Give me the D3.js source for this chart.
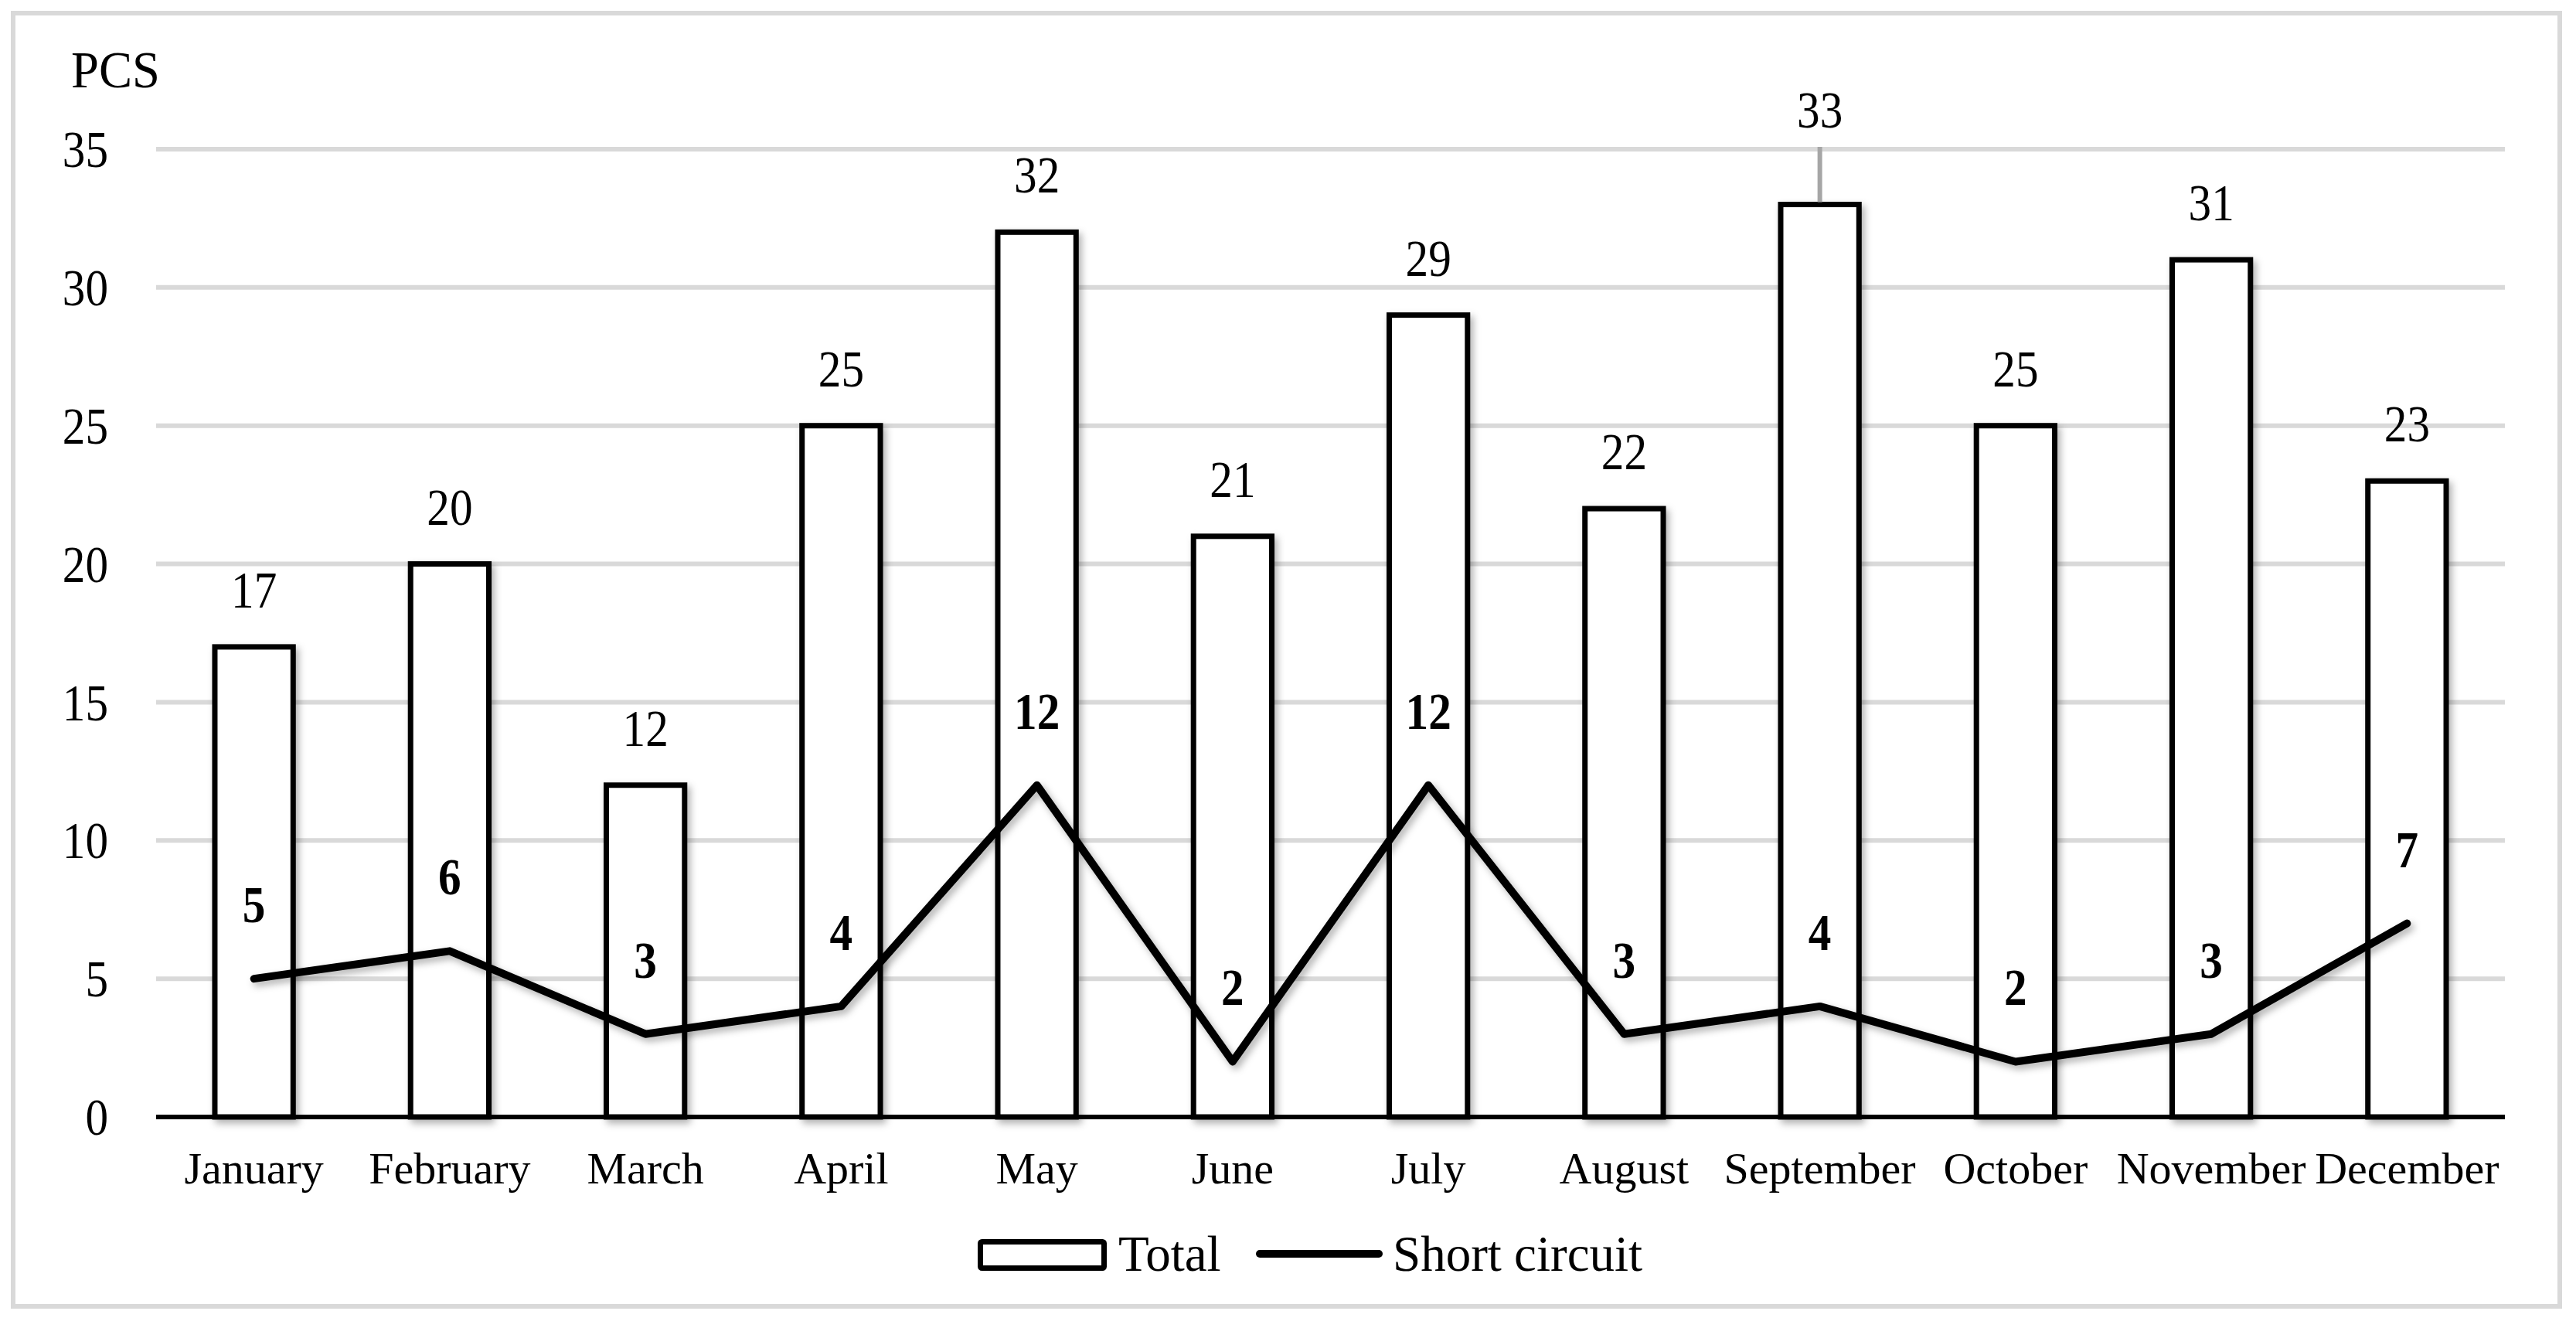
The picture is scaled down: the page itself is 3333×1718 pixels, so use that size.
<!DOCTYPE html>
<html>
<head>
<meta charset="utf-8">
<script src="https://cdn.jsdelivr.net/npm/d3@7"></script>
<style>
  html, body { margin: 0; padding: 0; background: #ffffff; }
  svg { display: block; }
  text { font-family: "Liberation Serif", "Times New Roman", serif; fill: #000; }
</style>
</head>
<body>
<svg id="chart" width="3333" height="1718"></svg>
<script>
const months = ["January","February","March","April","May","June","July","August","September","October","November","December"];
const totalValues = [17, 20, 12, 25, 32, 21, 29, 22, 33, 25, 31, 23];
const shortCircuitValues = [5, 6, 3, 4, 12, 2, 12, 3, 4, 2, 3, 7];
const yTicks = [0, 5, 10, 15, 20, 25, 30, 35];
const seriesNames = ["Total", "Short circuit"];
const yUnit = "PCS";

const plot = { left: 202, right: 3241, top: 193, bottom: 1445 };
const NUM_FS = 68, NUM_SX = 0.87;

const svg = d3.select("#chart");

const defs = svg.append("defs");
const sh = defs.append("filter").attr("id", "shadow")
  .attr("x", "-20%").attr("y", "-20%").attr("width", "140%").attr("height", "140%");
sh.append("feDropShadow").attr("dx", 4).attr("dy", 5).attr("stdDeviation", 5)
  .attr("flood-color", "#000").attr("flood-opacity", 0.3);

// outer frame
svg.append("rect").attr("x", 17).attr("y", 17).attr("width", 3295).attr("height", 1673)
  .attr("fill", "#fff").attr("stroke", "#d9d9d9").attr("stroke-width", 6);

const x = d3.scaleBand().domain(months).range([plot.left, plot.right])
  .paddingInner(0.6).paddingOuter(0.3);
const y = d3.scaleLinear().domain([0, 35]).range([plot.bottom, plot.top]);
const cx = i => x(months[i]) + x.bandwidth() / 2;

// gridlines
svg.append("g").selectAll("line").data(yTicks.filter(d => d > 0)).join("line")
  .attr("x1", plot.left).attr("x2", plot.right)
  .attr("y1", d => y(d)).attr("y2", d => y(d))
  .attr("stroke", "#d9d9d9").attr("stroke-width", 6);

// y tick labels (slightly condensed numerals)
svg.append("g").selectAll("text").data(yTicks).join("text")
  .attr("transform", d => `translate(140,${y(d)}) scale(${NUM_SX},1)`)
  .attr("dy", "0.34em")
  .attr("text-anchor", "end").attr("font-size", NUM_FS).text(d => d);

// unit label
svg.append("text").attr("transform", "translate(92,113) scale(0.95,1)")
  .attr("font-size", 68).text(yUnit);

// bars
svg.append("g").attr("filter", "url(#shadow)").selectAll("rect").data(totalValues).join("rect")
  .attr("x", (d, i) => x(months[i]))
  .attr("y", d => y(d))
  .attr("width", x.bandwidth())
  .attr("height", d => y(0) - y(d))
  .attr("fill", "#fff").attr("stroke", "#000").attr("stroke-width", 7);

// x axis line
svg.append("line").attr("x1", plot.left).attr("x2", plot.right)
  .attr("y1", y(0)).attr("y2", y(0)).attr("stroke", "#000").attr("stroke-width", 6);

// x labels
svg.append("g").selectAll("text").data(months).join("text")
  .attr("x", d => x(d) + x.bandwidth() / 2).attr("y", 1531)
  .attr("text-anchor", "middle").attr("font-size", 58).text(d => d);

// short circuit line
const lineGen = d3.line().x((d, i) => cx(i)).y(d => y(d));
svg.append("path").datum(shortCircuitValues).attr("d", lineGen)
  .attr("fill", "none").attr("stroke", "#000").attr("stroke-width", 10)
  .attr("stroke-linejoin", "round").attr("stroke-linecap", "round")
  .attr("filter", "url(#shadow)");

// total labels
const si = months.indexOf("September");
svg.append("g").selectAll("text").data(totalValues).join("text")
  .attr("transform", (d, i) => `translate(${cx(i)},${i === si ? 165 : y(d) - 51}) scale(${NUM_SX},1)`)
  .attr("text-anchor", "middle").attr("font-size", NUM_FS).text(d => d);

// leader line for September label
svg.append("line").attr("x1", cx(si)).attr("x2", cx(si))
  .attr("y1", y(totalValues[si]) - 3).attr("y2", 190)
  .attr("stroke", "#a6a6a6").attr("stroke-width", 6);

// short circuit labels (bold)
svg.append("g").selectAll("text").data(shortCircuitValues).join("text")
  .attr("transform", (d, i) => `translate(${cx(i)},${y(d) - 73}) scale(${NUM_SX},1)`)
  .attr("text-anchor", "middle").attr("font-size", NUM_FS).attr("font-weight", "bold").text(d => d);

// legend
const lg = svg.append("g");
lg.append("rect").attr("x", 1268.5).attr("y", 1606.5).attr("width", 160).attr("height", 34)
  .attr("rx", 2).attr("fill", "#fff").attr("stroke", "#000").attr("stroke-width", 7);
lg.append("text").attr("x", 1447).attr("y", 1644).attr("font-size", 65).text(seriesNames[0]);
lg.append("line").attr("x1", 1630).attr("x2", 1784).attr("y1", 1622).attr("y2", 1622)
  .attr("stroke", "#000").attr("stroke-width", 10).attr("stroke-linecap", "round");
lg.append("text").attr("x", 1802).attr("y", 1644).attr("font-size", 65).text(seriesNames[1]);
</script>
</body>
</html>
